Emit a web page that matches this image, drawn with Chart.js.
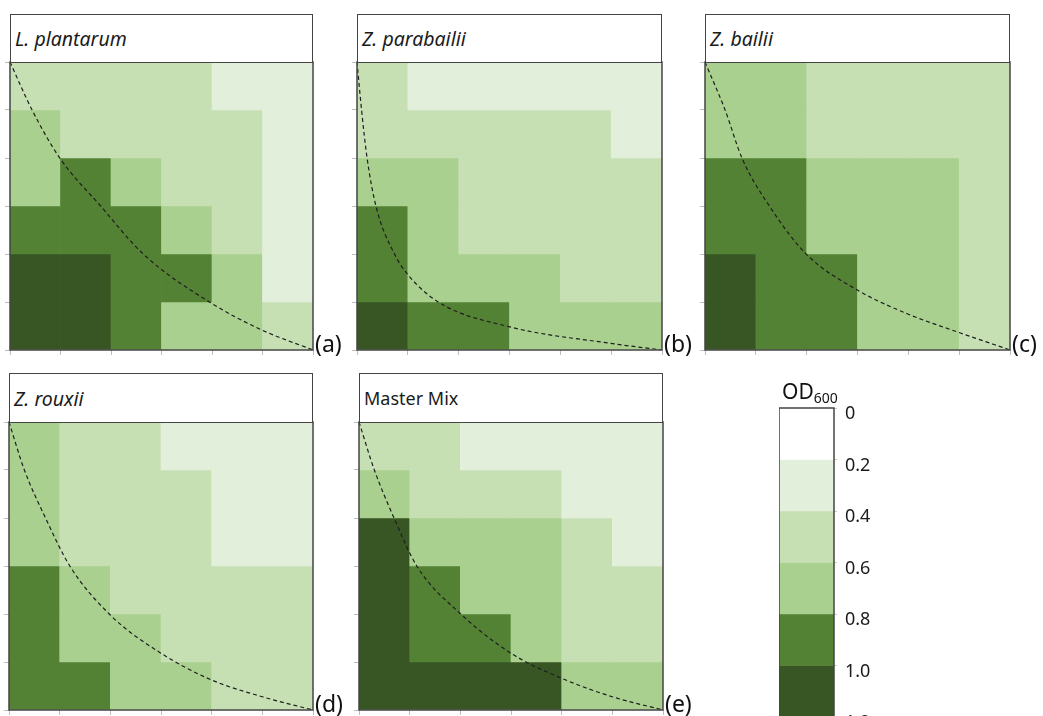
<!DOCTYPE html>
<html>
<head>
<meta charset="utf-8">
<script src="https://cdn.jsdelivr.net/npm/chart.js@4.4.1/dist/chart.umd.min.js"></script>
<style>
	body { margin: 0; width: 1043px; height: 716px; overflow: hidden; position: relative; background: #fff; font-family: 'Noto Sans', sans-serif; }
	canvas { position: absolute; }
	.title { position: absolute; box-sizing: border-box; border: 1.5px solid #444; background: #fff; font-size: 19.5px; font-style: italic; color: #1b1b1b; padding-left: 4px; display: flex; align-items: center; }
	.title.plain { font-style: normal; font-size: 18px; }
	.tag { position: absolute; font-size: 23px; line-height: 26px; color: #111; }
	.od { position: absolute; font-size: 21px; line-height: 24px; color: #111; }
	.od sub { font-size: 14px; vertical-align: -4px; }
</style>
</head>
<body>
<script>
const columns = [0, 1, 2, 3, 4, 5];
const panelNames = ['L. plantarum', 'Z. parabailii', 'Z. bailii', 'Z. rouxii', 'Master Mix'];
const panelTags = ['(a)', '(b)', '(c)', '(d)', '(e)'];

// OD600 per well, top row first
const odPlantarum = [
	[0.5, 0.5, 0.5, 0.5, 0.3, 0.3],
	[0.7, 0.5, 0.5, 0.5, 0.5, 0.3],
	[0.7, 0.9, 0.7, 0.5, 0.5, 0.3],
	[0.9, 0.9, 0.9, 0.7, 0.5, 0.3],
	[1.1, 1.1, 0.9, 0.9, 0.7, 0.3],
	[1.1, 1.1, 0.9, 0.7, 0.7, 0.5]
];
const odParabailii = [
	[0.5, 0.3, 0.3, 0.3, 0.3, 0.3],
	[0.5, 0.5, 0.5, 0.5, 0.5, 0.3],
	[0.7, 0.7, 0.5, 0.5, 0.5, 0.5],
	[0.9, 0.7, 0.5, 0.5, 0.5, 0.5],
	[0.9, 0.7, 0.7, 0.7, 0.5, 0.5],
	[1.1, 0.9, 0.9, 0.7, 0.7, 0.7]
];
const odBailii = [
	[0.7, 0.7, 0.5, 0.5, 0.5, 0.5],
	[0.7, 0.7, 0.5, 0.5, 0.5, 0.5],
	[0.9, 0.9, 0.7, 0.7, 0.7, 0.5],
	[0.9, 0.9, 0.7, 0.7, 0.7, 0.5],
	[1.1, 0.9, 0.9, 0.7, 0.7, 0.5],
	[1.1, 0.9, 0.9, 0.7, 0.7, 0.5]
];
const odRouxii = [
	[0.7, 0.5, 0.5, 0.3, 0.3, 0.3],
	[0.7, 0.5, 0.5, 0.5, 0.3, 0.3],
	[0.7, 0.5, 0.5, 0.5, 0.3, 0.3],
	[0.9, 0.7, 0.5, 0.5, 0.5, 0.5],
	[0.9, 0.7, 0.7, 0.5, 0.5, 0.5],
	[0.9, 0.9, 0.7, 0.7, 0.5, 0.5]
];
const odMasterMix = [
	[0.5, 0.5, 0.3, 0.3, 0.3, 0.3],
	[0.7, 0.5, 0.5, 0.5, 0.3, 0.3],
	[1.1, 0.7, 0.7, 0.7, 0.5, 0.3],
	[1.1, 0.9, 0.7, 0.7, 0.5, 0.5],
	[1.1, 0.9, 0.9, 0.7, 0.5, 0.5],
	[1.1, 1.1, 1.1, 1.1, 0.7, 0.7]
];

// dashed reference curves (fraction across, fraction up)
const curveAx = [0, 0.073, 0.164, 0.299, 0.44, 0.659, 0.832, 1];
const curveAy = [1, 0.833, 0.667, 0.5, 0.333, 0.166, 0.069, 0];
const curveBx = [0, 0.015, 0.033, 0.062, 0.123, 0.165, 0.266, 0.498, 0.832, 1];
const curveBy = [1, 0.833, 0.667, 0.5, 0.333, 0.264, 0.167, 0.081, 0.023, 0];
const curveCx = [0, 0.066, 0.121, 0.211, 0.332, 0.498, 0.665, 0.832, 1];
const curveCy = [1, 0.833, 0.667, 0.5, 0.333, 0.209, 0.125, 0.061, 0];
const curveDx = [0, 0.05, 0.12, 0.2, 0.333, 0.5, 0.667, 0.833, 1];
const curveDy = [1, 0.835, 0.667, 0.5, 0.33, 0.197, 0.104, 0.046, 0];
const curveEx = [0, 0.05, 0.115, 0.19, 0.333, 0.5, 0.667, 0.833, 1];
const curveEy = [1, 0.835, 0.667, 0.5, 0.335, 0.197, 0.11, 0.046, 0];

// colour scale
const odBands = [0, 0.2, 0.4, 0.6, 0.8, 1.0, 1.2];
const bandColors = ['#ffffff', '#e2efda', '#c6e0b4', '#a9d08e', '#548235', '#375623'];

function colorFor(v) {
	let i = Math.floor(v / 0.2);
	if (i > bandColors.length - 1) i = bandColors.length - 1;
	return bandColors[i];
}

const framePlugin = {
	id: 'frame',
	afterDatasetsDraw: function (chart) {
		const a = chart.chartArea;
		const ctx = chart.ctx;
		ctx.save();
		ctx.strokeStyle = '#444';
		ctx.lineWidth = 1.5;
		ctx.strokeRect(a.left, a.top, a.right - a.left, a.bottom - a.top);
		ctx.restore();
	}
};

const panels = [
	{ grid: odPlantarum, cx: curveAx, cy: curveAy, x0: 10, w: 303, ty: 14, y0: 62, h: 288 },
	{ grid: odParabailii, cx: curveBx, cy: curveBy, x0: 357, w: 305, ty: 14, y0: 62, h: 288 },
	{ grid: odBailii, cx: curveCx, cy: curveCy, x0: 705, w: 305, ty: 14, y0: 62, h: 288 },
	{ grid: odRouxii, cx: curveDx, cy: curveDy, x0: 9, w: 304, ty: 373, y0: 422, h: 288 },
	{ grid: odMasterMix, cx: curveEx, cy: curveEy, x0: 359, w: 304, ty: 373, y0: 422, h: 288 }
];

function addDiv(cls, html, left, top, width, height) {
	const d = document.createElement('div');
	d.className = cls;
	d.innerHTML = html;
	d.style.left = left + 'px';
	d.style.top = top + 'px';
	if (width) d.style.width = width + 'px';
	if (height) d.style.height = height + 'px';
	document.body.appendChild(d);
	return d;
}

function addCanvas(left, top, width, height) {
	const c = document.createElement('canvas');
	c.width = width;
	c.height = height;
	c.style.left = left + 'px';
	c.style.top = top + 'px';
	c.style.width = width + 'px';
	c.style.height = height + 'px';
	document.body.appendChild(c);
	return c.getContext('2d');
}

document.addEventListener('DOMContentLoaded', function () {
	panels.forEach(function (p, k) {
		const rows = p.grid.length;
		const ncol = columns.length;
		const datasets = p.grid.map(function (row, r) {
			return {
				type: 'bar',
				order: 1,
				grouped: false,
				data: row.map(function (v, c) { return { x: columns[c] + 0.5, y: [rows - 1 - r, rows - r] }; }),
				backgroundColor: row.map(colorFor),
				borderWidth: 0,
				barPercentage: 1,
				categoryPercentage: 1
			};
		});
		datasets.push({
			type: 'line',
			order: 0,
			data: p.cx.map(function (x, i) { return { x: x * ncol, y: p.cy[i] * rows }; }),
			borderColor: '#1e1e1e',
			borderWidth: 1.2,
			borderDash: [4, 3],
			pointRadius: 0,
			cubicInterpolationMode: 'monotone',
			fill: false
		});

		const ctx = addCanvas(p.x0 - 6, p.y0 - 2, p.w + 10, p.h + 8);
		new Chart(ctx, {
			type: 'bar',
			data: { datasets: datasets },
			options: {
				responsive: false,
				animation: false,
				events: [],
				layout: { padding: { left: 1, top: 2, right: 4, bottom: 1 } },
				plugins: { legend: { display: false }, tooltip: { enabled: false } },
				scales: {
					x: {
						type: 'linear',
						min: 0,
						max: ncol,
						offset: false,
						border: { display: false },
						grid: { offset: false, drawOnChartArea: false, tickLength: 5, color: '#bdbdbd' },
						ticks: { display: false, stepSize: 1 }
					},
					y: {
						min: 0,
						max: rows,
						border: { display: false },
						grid: { drawOnChartArea: false, tickLength: 5, color: '#bdbdbd' },
						ticks: { display: false, stepSize: 1 }
					}
				}
			},
			plugins: [framePlugin]
		});

		addDiv('title' + (k === 4 ? ' plain' : ''), panelNames[k], p.x0, p.ty, p.w, p.y0 - p.ty + 1);
		addDiv('tag', panelTags[k], p.x0 + p.w + 2, p.y0 + p.h - 20);
	});

	// colour bar
	const barDatasets = bandColors.map(function (c, i) {
		return {
			data: [[odBands[i], odBands[i + 1]]],
			backgroundColor: c,
			borderWidth: 0,
			grouped: false,
			barPercentage: 1,
			categoryPercentage: 1
		};
	});
	const ctx2 = addCanvas(779, 395, 110, 352);
	new Chart(ctx2, {
		type: 'bar',
		data: { labels: ['OD600'], datasets: barDatasets },
		options: {
			responsive: false,
			animation: false,
			events: [],
			layout: { padding: { left: 0, top: 13, right: 0, bottom: 30 } },
			plugins: { legend: { display: false }, tooltip: { enabled: false } },
			scales: {
				x: { display: false },
				y: {
					position: 'right',
					reverse: true,
					min: 0,
					max: 1.2,
					border: { display: false },
					grid: { drawOnChartArea: false, tickLength: 3, color: '#cccccc' },
					ticks: {
						stepSize: 0.2,
						padding: 8,
						labelOffset: 6,
						color: '#1b1b1b',
						font: { family: "'Noto Sans'", size: 18 },
						callback: function (v) { return v === 0 ? '0' : Number(v).toFixed(1); }
					},
					afterFit: function (scale) {
						scale.width = 55;
						scale.paddingTop = 0;
						scale.paddingBottom = 0;
					}
				}
			}
		},
		plugins: [framePlugin]
	});
	addDiv('od', 'OD<sub>600</sub>', 782, 379);
});
</script>
</body>
</html>
